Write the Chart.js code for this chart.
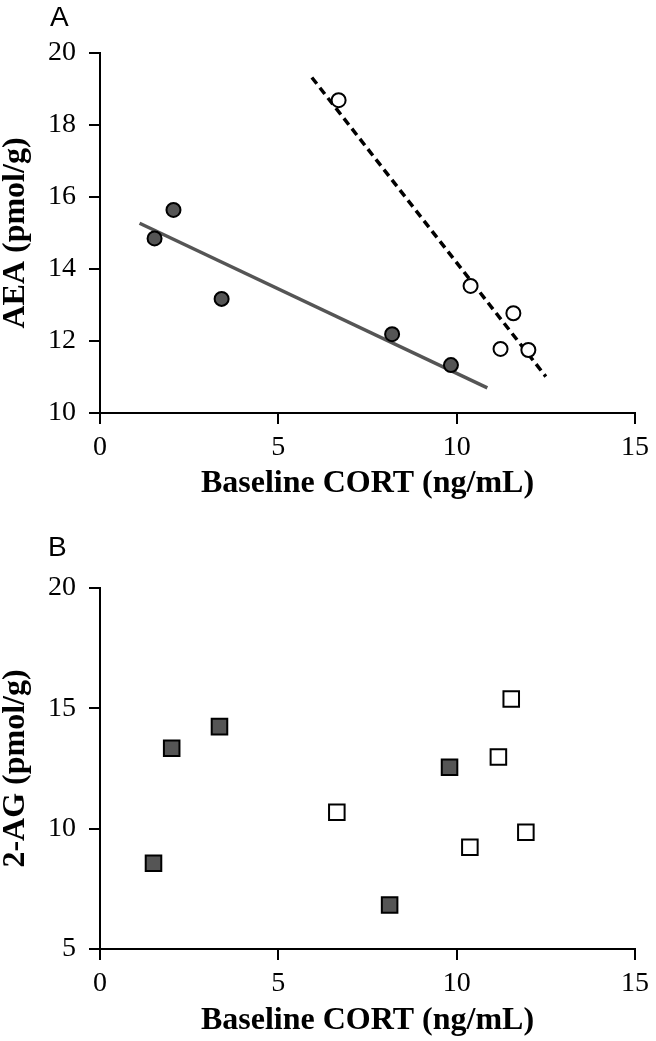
<!DOCTYPE html>
<html>
<head>
<meta charset="utf-8">
<script src="https://cdn.jsdelivr.net/npm/chart.js@4"></script>
<style>
  body { margin: 0; background: #fff; width: 656px; height: 1041px; position: relative; overflow: hidden; }
  canvas { position: absolute; left: 0; }
  #chartA { top: 0; }
  #chartB { top: 520px; }
  .panel { position: absolute; font-family: "Liberation Sans", Arial, sans-serif; font-size: 28px; line-height: 28px; color: #000; }
</style>
</head>
<body>
<canvas id="chartA" width="656" height="520"></canvas>
<canvas id="chartB" width="656" height="521"></canvas>
<div class="panel" style="left:50px; top:3px;">A</div>
<div class="panel" style="left:48px; top:533px;">B</div>
<script>
// values
var xTitle = 'Baseline CORT (ng/mL)';
var xTicks = [0, 5, 10, 15];

// panel A - AEA
var aeaFilledX = [1.53, 2.06, 3.41, 8.19, 9.84];
var aeaFilledY = [14.85, 15.64, 13.17, 12.19, 11.33];
var aeaOpenX = [6.69, 10.39, 11.59, 11.23, 12.01];
var aeaOpenY = [18.69, 13.53, 12.77, 11.78, 11.75];
var aeaFitFilledX = [1.11, 10.86];
var aeaFitFilledY = [15.27, 10.70];
var aeaFitOpenX = [5.94, 12.5];
var aeaFitOpenY = [19.32, 11.01];
var aeaTicks = [10, 12, 14, 16, 18, 20];

// panel B - 2-AG
var agFilledX = [1.5, 2.01, 3.35, 8.12, 9.8];
var agFilledY = [8.56, 13.34, 14.24, 6.83, 12.55];
var agOpenX = [6.64, 10.37, 11.17, 11.53, 11.94];
var agOpenY = [10.68, 9.23, 12.98, 15.39, 9.85];
var agTicks = [5, 10, 15, 20];

function pts(xs, ys) {
  return xs.map(function (x, i) { return { x: x, y: ys[i] }; });
}

var tickFont = { family: 'Liberation Serif', size: 28 };
var titleFont = { family: 'Liberation Serif', size: 32, weight: 'bold', lineHeight: 1 };
var darkFill = '#555555';

function axisBase() {
  return {
    border: { display: true, color: '#000', width: 2 },
    grid: { display: true, drawOnChartArea: false, drawTicks: true, tickLength: 11, color: '#000', lineWidth: 2 },
    ticks: { color: '#000', font: tickFont, padding: 7, autoSkip: false, maxRotation: 0 }
  };
}

function makeChart(id, cfg) {
  var xAxis = axisBase();
  xAxis.type = 'linear';
  xAxis.min = 0; xAxis.max = 15;
  xAxis.afterBuildTicks = function (s) { s.ticks = xTicks.map(function (v) { return { value: v }; }); };
  xAxis.title = { display: true, text: xTitle, color: '#000', font: titleFont, padding: { top: 0, bottom: cfg.xTitlePad } };
  xAxis.afterFit = function (s) { s.height = cfg.xHeight; };

  var yAxis = axisBase();
  yAxis.type = 'linear';
  yAxis.min = cfg.yTicks[0]; yAxis.max = cfg.yTicks[cfg.yTicks.length - 1];
  yAxis.ticks.padding = 13;
  yAxis.afterBuildTicks = function (s) { s.ticks = cfg.yTicks.map(function (v) { return { value: v }; }); };
  yAxis.title = { display: true, text: cfg.yTitle, color: '#000', font: titleFont, padding: { top: 0, bottom: 0 } };
  yAxis.afterFit = function (s) { s.width = 100; };

  return new Chart(document.getElementById(id).getContext('2d'), {
    type: 'scatter',
    data: { datasets: cfg.datasets },
    options: {
      responsive: false,
      animation: false,
      events: [],
      layout: { padding: { top: cfg.top, right: 16, left: 0, bottom: 0 } },
      plugins: { legend: { display: false }, tooltip: { enabled: false } },
      scales: { x: xAxis, y: yAxis }
    }
  });
}

makeChart('chartA', {
  top: 53, xHeight: 107, xTitlePad: 20,
  yTicks: aeaTicks, yTitle: 'AEA (pmol/g)',
  datasets: [
    { data: pts(aeaFilledX, aeaFilledY), pointStyle: 'circle', pointRadius: 7, backgroundColor: darkFill, borderColor: '#000', borderWidth: 2, order: 0 },
    { data: pts(aeaOpenX, aeaOpenY), pointStyle: 'circle', pointRadius: 7, backgroundColor: '#fff', borderColor: '#000', borderWidth: 2, order: 0 },
    { data: pts(aeaFitFilledX, aeaFitFilledY), showLine: true, pointRadius: 0, borderColor: '#555555', borderWidth: 3.5, order: 1 },
    { data: pts(aeaFitOpenX, aeaFitOpenY), showLine: true, pointRadius: 0, borderColor: '#000', borderWidth: 3.5, borderDash: [8, 5], order: 1 }
  ]
});

makeChart('chartB', {
  top: 68, xHeight: 92, xTitlePad: 4,
  yTicks: agTicks, yTitle: '2-AG (pmol/g)',
  datasets: [
    { data: pts(agFilledX, agFilledY), pointStyle: 'rect', pointRadius: 11, backgroundColor: darkFill, borderColor: '#000', borderWidth: 2 },
    { data: pts(agOpenX, agOpenY), pointStyle: 'rect', pointRadius: 11, backgroundColor: '#fff', borderColor: '#000', borderWidth: 2 }
  ]
});
</script>
</body>
</html>
